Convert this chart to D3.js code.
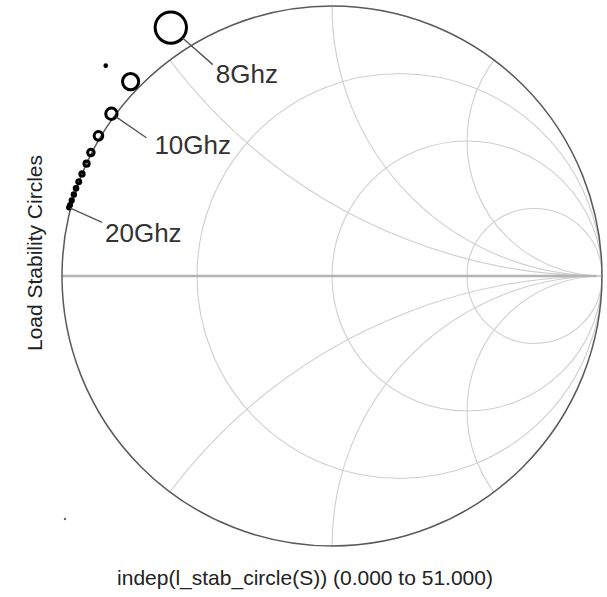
<!DOCTYPE html>
<html>
<head>
<meta charset="utf-8">
<script src="https://cdn.jsdelivr.net/npm/d3@7"></script>
<style>
  body { margin: 0; background: #fff; }
  svg { display: block; }
</style>
</head>
<body>
<div id="chart"></div>
<script>
// frecuencias de cada circulo de estabilidad (GHz)
const freqs = [8, 9, 10, 11, 12, 13, 14, 15, 16, 17, 18, 19, 20];
// centro de cada circulo en el plano Gamma (parte real / imaginaria) y radio
const centerRe = [-0.597, -0.746, -0.817, -0.865, -0.893, -0.909, -0.926, -0.938, -0.948, -0.956, -0.964, -0.970, -0.974];
const centerIm = [0.920, 0.720, 0.601, 0.519, 0.457, 0.416, 0.378, 0.349, 0.325, 0.302, 0.280, 0.263, 0.254];
const radius = [0.058, 0.030, 0.021, 0.016, 0.012, 0.0096, 0.008, 0.0074, 0.0068, 0.0063, 0.006, 0.0057, 0.0055];
// puntos sueltos
const dotRe = [-0.838, -0.989];
const dotIm = [0.779, -0.900];

// rejilla de la carta de Smith
const resistances = [1 / 3, 1, 3];
const reactances = [0.5, 1, 2, -0.5, -1, -2];

// etiquetas de frecuencia
const labelFreqs = [8, 10, 20];
const labelText = ['8Ghz', '10Ghz', '20Ghz'];

const xTitle = 'indep(l_stab_circle(S)) (0.000 to 51.000)';
const yTitle = 'Load Stability Circles';

const W = 607, H = 597;
const cx = 332, cy = 276, R = 270;

const svg = d3.select('#chart').append('svg')
    .attr('width', W)
    .attr('height', H)
    .style('font-family', 'Arial, "Liberation Sans", sans-serif');

const x = d3.scaleLinear().domain([-1, 1]).range([cx - R, cx + R]);
const y = d3.scaleLinear().domain([-1, 1]).range([cy + R, cy - R]);
const len = d3.scaleLinear().domain([0, 1]).range([0, R]);

svg.append('clipPath').attr('id', 'unit')
    .append('circle')
    .attr('cx', x(0)).attr('cy', y(0)).attr('r', len(1));

let grid = svg.append('g').attr('clip-path', 'url(#unit)');

// circulos de resistencia constante
grid.selectAll('.rcirc')
    .data(resistances)
    .join('circle')
    .attr('class', 'rcirc')
    .attr('cx', d => x(d / (1 + d)))
    .attr('cy', y(0))
    .attr('r', d => len(1 / (1 + d)))
    .attr('fill', 'none')
    .attr('stroke', '#cfcfcf')
    .attr('stroke-width', 1.1);

// arcos de reactancia constante
grid.selectAll('.xcirc')
    .data(reactances)
    .join('circle')
    .attr('class', 'xcirc')
    .attr('cx', x(1))
    .attr('cy', d => y(1 / d))
    .attr('r', d => len(1 / Math.abs(d)))
    .attr('fill', 'none')
    .attr('stroke', '#cfcfcf')
    .attr('stroke-width', 1.1);

// eje real
svg.append('line')
    .attr('x1', x(-1)).attr('x2', x(0.98))
    .attr('y1', y(0)).attr('y2', y(0))
    .attr('stroke', '#b4b4b4')
    .attr('stroke-width', 2.6);

// borde
svg.append('circle')
    .attr('cx', x(0)).attr('cy', y(0)).attr('r', len(1))
    .attr('fill', 'none')
    .attr('stroke', '#5a5a5a')
    .attr('stroke-width', 1.5);

// circulos de estabilidad
let stab = freqs.map((f, i) => ({ f: f, re: centerRe[i], im: centerIm[i], r: radius[i] }));

svg.selectAll('.stab')
    .data(stab)
    .join('circle')
    .attr('class', 'stab')
    .attr('cx', d => x(d.re))
    .attr('cy', d => y(d.im))
    .attr('r', d => len(d.r))
    .attr('fill', 'none')
    .attr('stroke', '#000')
    .attr('stroke-width', 3);

svg.selectAll('.dot')
    .data(dotRe.map((d, i) => [d, dotIm[i]]))
    .join('circle')
    .attr('class', 'dot')
    .attr('cx', d => x(d[0]))
    .attr('cy', d => y(d[1]))
    .attr('r', (d, i) => i === 0 ? 2.3 : 1.2)
    .attr('fill', (d, i) => i === 0 ? '#000' : '#666');

// etiquetas con linea guia
const offsets = [[42, 37, 45, 55], [35, 24, 43, 40], [33, 15, 36, 35]];
labelFreqs.forEach(function (f, i) {
    let d = stab.find(s => s.f === f);
    let px = x(d.re), py = y(d.im);
    let o = offsets[i];
    let ang = Math.atan2(o[1], o[0]);
    let rr = len(d.r);
    svg.append('line')
        .attr('x1', px + rr * Math.cos(ang)).attr('y1', py + rr * Math.sin(ang))
        .attr('x2', px + o[0]).attr('y2', py + o[1])
        .attr('stroke', '#555')
        .attr('stroke-width', 1.4);
    svg.append('text')
        .attr('x', px + o[2]).attr('y', py + o[3])
        .attr('font-size', 26)
        .attr('fill', '#333')
        .text(labelText[i]);
});

// titulos de ejes
svg.append('text')
    .attr('x', 305).attr('y', 585)
    .attr('text-anchor', 'middle')
    .attr('font-size', 21)
    .attr('fill', '#222')
    .text(xTitle);

svg.append('text')
    .attr('transform', 'translate(42,253) rotate(-90)')
    .attr('text-anchor', 'middle')
    .attr('font-size', 21)
    .attr('fill', '#222')
    .text(yTitle);
</script>
</body>
</html>
